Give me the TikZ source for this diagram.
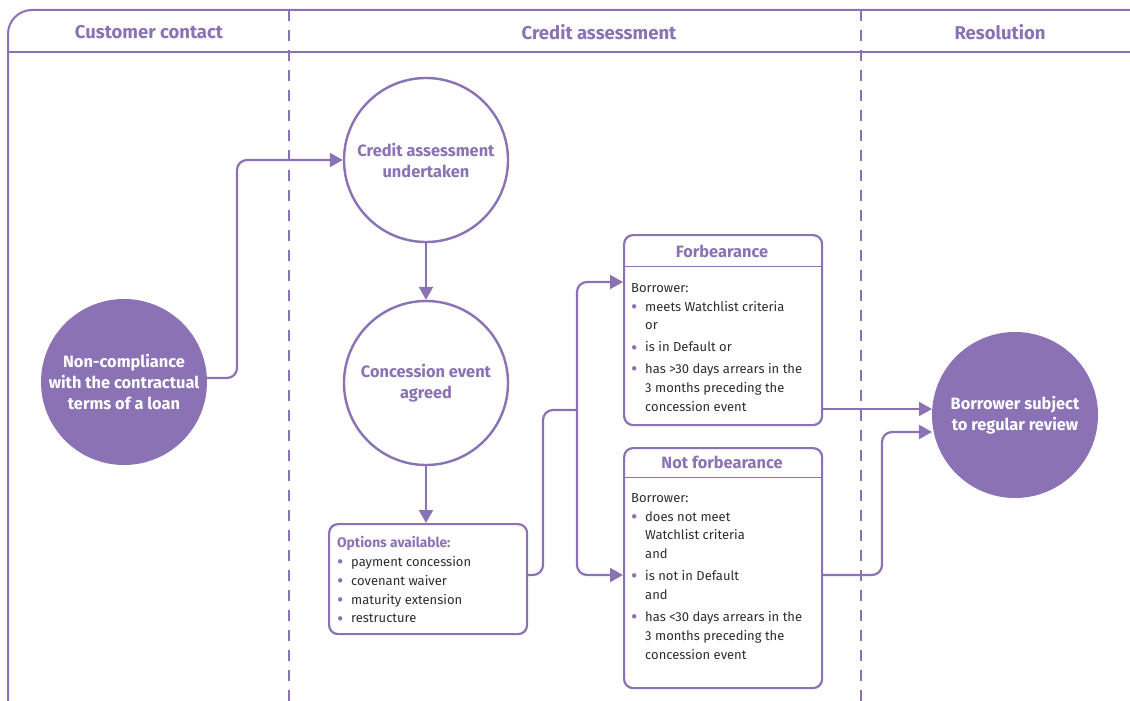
\documentclass[tikz,border=0pt]{standalone}
\usepackage{fontspec}
\setmainfont{Fira Sans}
\usetikzlibrary{arrows.meta}
\definecolor{lav}{RGB}{138,114,180}
\definecolor{ink}{RGB}{45,45,45}
\newcommand{\bul}{\makebox[14pt][l]{\textcolor{lav}{\raisebox{-2.2pt}{\scalebox{1.5}{•}}}}}
\newcommand{\ind}{\hspace*{14pt}}
\begin{document}
\begin{tikzpicture}[x=1pt,y=-1pt,
  frame/.style={draw=lav,line width=2pt},
  lane/.style={draw=lav,line width=2.4pt,dash pattern=on 11pt off 9pt},
  head/.style={text=lav,font=\fontsize{18.5}{22}\selectfont\bfseries},
  solidc/.style={circle,fill=lav,draw=lav,line width=2pt,minimum size=164pt,inner sep=0pt,
    text=white,font=\fontsize{16.4}{21}\selectfont\bfseries,align=center},
  openc/.style={circle,fill=white,draw=lav,line width=2.4pt,minimum size=164pt,inner sep=0pt,
    text=lav,font=\fontsize{16.4}{21}\selectfont\bfseries,align=center},
  card/.style={draw=lav,line width=2.2pt,rounded corners=9pt},
  cardtitle/.style={text=lav,font=\fontsize{16.4}{19}\selectfont\bfseries},
  body/.style={text=ink,font=\fontsize{13}{18.9}\selectfont,align=left,inner sep=0pt,anchor=north west},
  link/.style={draw=lav,line width=2.2pt,rounded corners=10pt},
  tip/.style={-{Triangle[length=13pt,width=14pt]}}
]
\useasboundingbox (0,0) rectangle (1130,701);

% swimlane frame
\draw[frame,rounded corners=24pt] (8,710) -- (8,10) -- (1150,10);
\draw[draw=lav,line width=1.2pt] (8,52) -- (1130,52);
\draw[lane] (289,10) -- (289,701);
\draw[lane] (861,10) -- (861,701);

\node[head] (h1) at (149,32) {Customer contact};
\node[head] (h2) at (599,32) {Credit assessment};
\node[head] (h3) at (1000,32) {Resolution};

% circles
\node[solidc] (nc) at (124,382) {Non-compliance\\with the contractual\\terms of a loan};
\node[openc] (ca) at (426,160) {Credit assessment\\undertaken};
\node[openc] (ce) at (426,383) {Concession event\\agreed};
\node[solidc] (br) at (1015,415) {Borrower subject\\to regular review};

% options box
\node[card,minimum width=198pt,minimum height=110pt,anchor=north west] (opt) at (328,523) {};
\node[body] (optt) at (337,536) {\textcolor{lav}{\fontsize{13.8}{18.9}\selectfont\bfseries Options available:}\\
\bul payment concession\\
\bul covenant waiver\\
\bul maturity extension\\
\bul restructure};

% forbearance box
\node[card,minimum width=198pt,minimum height=190pt,anchor=north west] (fb) at (623,234) {};
\draw[draw=lav,line width=1pt] (623,266) -- (821,266);
\node[cardtitle] (fbt) at (722,251) {Forbearance};
\node[body] (fbb) at (631,283) {Borrower:\\
\bul meets Watchlist criteria\\
\ind or\\[3pt]
\bul is in Default or\\[3pt]
\bul has >30 days arrears in the\\
\ind 3 months preceding the\\
\ind concession event};

% not forbearance box
\node[card,minimum width=198pt,minimum height=240pt,anchor=north west] (nf) at (623,447) {};
\draw[draw=lav,line width=1pt] (623,477) -- (821,477);
\node[cardtitle] (nft) at (722,462) {Not forbearance};
\node[body] (nfb) at (631,493) {Borrower:\\
\bul does not meet\\
\ind Watchlist criteria\\
\ind and\\[3pt]
\bul is not in Default\\
\ind and\\[3pt]
\bul has <30 days arrears in the\\
\ind 3 months preceding the\\
\ind concession event};

% connectors
\coordinate (split) at (577,410);
\draw[link,tip] (nc.east |- 0,378) -- (237,378) -- (237,160) -- (ca.west);
\draw[link,tip] (ca.south) -- (ce.north);
\draw[link,tip] (ce.south) -- (opt.north -| ce.south);
\draw[link] (opt.east |- 0,575) -- (543,575) -- (543,410) -- (split);
\draw[link,tip] (split) -- (577,282) -- (fb.west |- 0,282);
\draw[link,tip] (split) -- (577,575) -- (nf.west |- 0,575);
\draw[link,tip] (fb.east |- 0,409) -- (br.west |- 0,409);
\draw[link,tip] (nf.east |- 0,575) -- (882,575) -- (882,432) -- (br.west |- 0,432);
\end{tikzpicture}
\end{document}
